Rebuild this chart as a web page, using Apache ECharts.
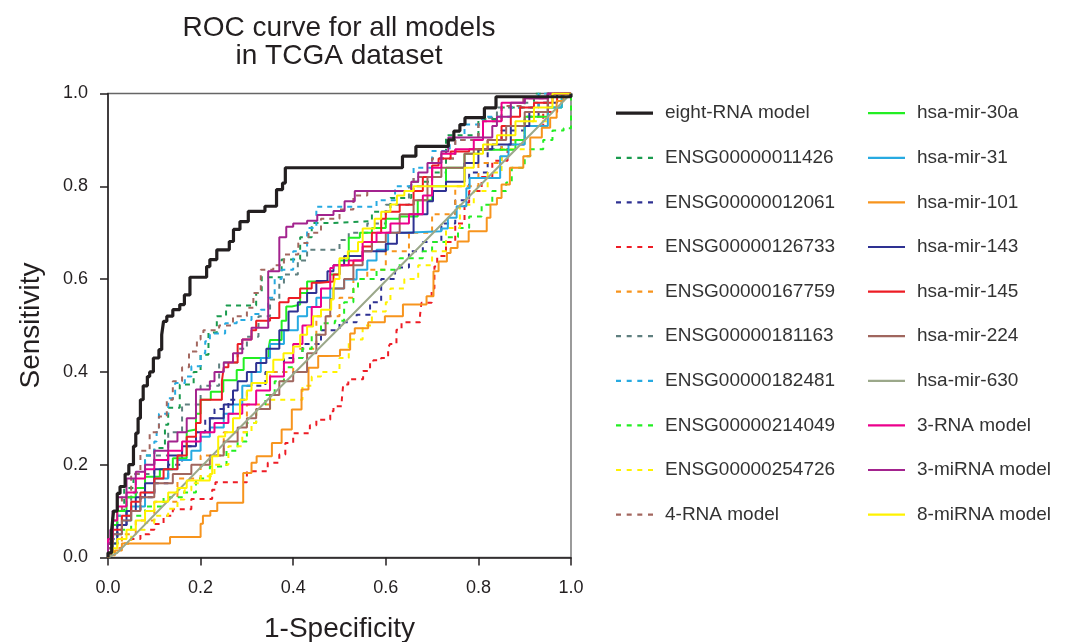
<!DOCTYPE html>
<html><head><meta charset="utf-8">
<script src="https://cdn.jsdelivr.net/npm/echarts@6/dist/echarts.min.js"></script>
<style>html,body{margin:0;padding:0;background:#fff}#c{width:1069px;height:642px}</style>
</head><body><div id="c"></div><script>
// ---- data (1-Specificity, Sensitivity) ----
const xTicks = [0, 0.2, 0.4, 0.6, 0.8, 1.0];
const yTicks = [0, 0.2, 0.4, 0.6, 0.8, 1.0];
const legendCol1 = ['eight-RNA model','ENSG00000011426','ENSG00000012061','ENSG00000126733','ENSG00000167759','ENSG00000181163','ENSG00000182481','ENSG00000214049','ENSG00000254726','4-RNA model'];
const legendCol2 = ['hsa-mir-30a','hsa-mir-31','hsa-mir-101','hsa-mir-143','hsa-mir-145','hsa-mir-224','hsa-mir-630','3-RNA model','3-miRNA model','8-miRNA model'];

const eightRNA = [[0,0],[0.008,0.01],[0.01,0.06],[0.012,0.08],[0.02,0.1],[0.026,0.138],[0.037,0.153],[0.045,0.18],[0.055,0.2],[0.06,0.24],[0.065,0.268],[0.07,0.3],[0.076,0.34],[0.085,0.37],[0.09,0.39],[0.098,0.4],[0.11,0.43],[0.116,0.448],[0.12,0.48],[0.127,0.509],[0.14,0.52],[0.155,0.534],[0.165,0.545],[0.177,0.566],[0.181,0.604],[0.213,0.604],[0.22,0.627],[0.235,0.642],[0.24,0.663],[0.262,0.663],[0.271,0.681],[0.285,0.707],[0.303,0.724],[0.314,0.746],[0.339,0.746],[0.339,0.757],[0.364,0.757],[0.377,0.793],[0.383,0.807],[0.383,0.84],[0.636,0.84],[0.665,0.865],[0.735,0.886],[0.747,0.9],[0.76,0.919],[0.771,0.933],[0.813,0.948],[0.838,0.969],[0.838,0.993],[1,0.993],[1,1]];
const ensg11426 = [[0,0],[0.01,0.04],[0.035,0.1],[0.055,0.15],[0.08,0.18],[0.1,0.22],[0.123,0.236],[0.13,0.286],[0.155,0.323],[0.185,0.373],[0.2,0.4],[0.217,0.437],[0.235,0.485],[0.255,0.52],[0.262,0.543],[0.32,0.543],[0.332,0.57],[0.375,0.604],[0.415,0.642],[0.44,0.69],[0.487,0.721],[0.57,0.725],[0.61,0.745],[0.655,0.775],[0.7,0.81],[0.73,0.83],[0.8,0.91],[0.85,0.945],[0.92,0.97],[1,1]];
const ensg12061 = [[0,0],[0.02,0.04],[0.04,0.07],[0.07,0.1],[0.1,0.13],[0.13,0.16],[0.16,0.2],[0.19,0.24],[0.21,0.27],[0.23,0.3],[0.26,0.32],[0.3,0.34],[0.34,0.37],[0.38,0.4],[0.42,0.43],[0.46,0.46],[0.5,0.49],[0.537,0.507],[0.566,0.523],[0.59,0.55],[0.62,0.6],[0.65,0.625],[0.68,0.66],[0.72,0.68],[0.75,0.72],[0.78,0.77],[0.82,0.83],[0.85,0.88],[0.9,0.92],[0.93,0.95],[0.97,0.98],[1,1]];
const ensg126733 = [[0,0],[0.01,0.01],[0.03,0.02],[0.05,0.03],[0.07,0.04],[0.09,0.05],[0.1,0.06],[0.12,0.072],[0.14,0.09],[0.156,0.104],[0.18,0.104],[0.2,0.126],[0.225,0.126],[0.232,0.146],[0.26,0.162],[0.3,0.162],[0.314,0.186],[0.345,0.186],[0.37,0.204],[0.383,0.222],[0.4,0.247],[0.415,0.268],[0.436,0.268],[0.45,0.285],[0.458,0.297],[0.48,0.297],[0.487,0.315],[0.505,0.326],[0.508,0.34],[0.519,0.373],[0.537,0.384],[0.551,0.384],[0.566,0.402],[0.573,0.42],[0.59,0.425],[0.605,0.43],[0.609,0.452],[0.623,0.46],[0.634,0.491],[0.645,0.507],[0.674,0.507],[0.677,0.523],[0.699,0.549],[0.705,0.58],[0.711,0.627],[0.73,0.65],[0.75,0.68],[0.77,0.72],[0.78,0.765],[0.807,0.79],[0.83,0.82],[0.863,0.855],[0.9,0.89],[0.94,0.93],[0.97,0.96],[1,1]];
const ensg167759 = [[0,0],[0.03,0.02],[0.06,0.05],[0.1,0.08],[0.15,0.12],[0.2,0.17],[0.25,0.22],[0.3,0.27],[0.35,0.33],[0.4,0.4],[0.45,0.45],[0.5,0.52],[0.53,0.56],[0.56,0.6],[0.6,0.62],[0.65,0.66],[0.7,0.7],[0.75,0.74],[0.8,0.8],[0.85,0.85],[0.9,0.9],[0.95,0.95],[1,1]];
const ensg181163 = [[0,0],[0.02,0.04],[0.05,0.09],[0.08,0.14],[0.1,0.18],[0.13,0.22],[0.16,0.27],[0.2,0.33],[0.24,0.37],[0.28,0.42],[0.3,0.45],[0.325,0.476],[0.35,0.52],[0.37,0.556],[0.38,0.59],[0.39,0.61],[0.41,0.61],[0.43,0.64],[0.47,0.663],[0.5,0.663],[0.52,0.684],[0.56,0.7],[0.6,0.72],[0.65,0.76],[0.7,0.8],[0.75,0.86],[0.8,0.9],[0.84,0.948],[0.9,0.97],[0.95,0.98],[1,1]];
const ensg182481 = [[0,0],[0.02,0.04],[0.04,0.09],[0.06,0.13],[0.08,0.18],[0.1,0.22],[0.105,0.25],[0.11,0.28],[0.13,0.31],[0.145,0.343],[0.166,0.376],[0.18,0.39],[0.2,0.412],[0.21,0.44],[0.22,0.466],[0.253,0.483],[0.278,0.505],[0.31,0.512],[0.33,0.525],[0.346,0.534],[0.36,0.56],[0.375,0.6],[0.4,0.62],[0.43,0.66],[0.45,0.71],[0.46,0.756],[0.58,0.756],[0.62,0.77],[0.66,0.8],[0.7,0.84],[0.738,0.876],[0.77,0.9],[0.81,0.933],[0.87,0.95],[0.93,0.97],[1,1]];
const ensg214049 = [[0,0],[0.02,0.03],[0.05,0.06],[0.08,0.09],[0.12,0.11],[0.16,0.13],[0.19,0.14],[0.22,0.17],[0.256,0.196],[0.28,0.23],[0.3,0.25],[0.32,0.29],[0.34,0.32],[0.36,0.35],[0.38,0.38],[0.4,0.41],[0.42,0.43],[0.44,0.45],[0.46,0.48],[0.49,0.505],[0.51,0.51],[0.53,0.55],[0.54,0.58],[0.58,0.6],[0.63,0.62],[0.68,0.645],[0.7,0.66],[0.73,0.68],[0.756,0.69],[0.78,0.71],[0.807,0.735],[0.83,0.76],[0.86,0.79],[0.872,0.808],[0.9,0.84],[0.912,0.865],[0.94,0.88],[0.96,0.9],[0.984,0.92],[1,0.925],[1,1]];
const ensg254726 = [[0,0],[0.02,0.01],[0.05,0.03],[0.08,0.06],[0.1,0.075],[0.13,0.09],[0.15,0.105],[0.165,0.125],[0.18,0.145],[0.2,0.16],[0.23,0.175],[0.26,0.2],[0.29,0.24],[0.31,0.27],[0.32,0.29],[0.35,0.32],[0.375,0.34],[0.42,0.34],[0.44,0.37],[0.46,0.39],[0.5,0.4],[0.52,0.43],[0.55,0.47],[0.57,0.5],[0.6,0.53],[0.61,0.55],[0.64,0.58],[0.67,0.6],[0.7,0.63],[0.73,0.66],[0.76,0.71],[0.79,0.76],[0.82,0.79],[0.85,0.83],[0.9,0.88],[0.95,0.94],[1,1]];
const rna4 = [[0,0],[0.01,0.04],[0.03,0.08],[0.05,0.13],[0.07,0.18],[0.09,0.23],[0.11,0.27],[0.127,0.304],[0.14,0.34],[0.16,0.38],[0.175,0.41],[0.192,0.444],[0.2,0.47],[0.206,0.484],[0.24,0.49],[0.27,0.5],[0.3,0.52],[0.314,0.538],[0.33,0.57],[0.357,0.62],[0.38,0.63],[0.411,0.653],[0.433,0.678],[0.46,0.7],[0.5,0.73],[0.53,0.75],[0.56,0.78],[0.59,0.79],[0.66,0.79],[0.7,0.82],[0.75,0.86],[0.8,0.9],[0.85,0.94],[0.897,0.973],[0.95,0.99],[1,1]];
const mir30a = [[0,0],[0.01,0.03],[0.02,0.07],[0.04,0.1],[0.06,0.13],[0.08,0.15],[0.112,0.174],[0.14,0.19],[0.17,0.214],[0.17,0.272],[0.19,0.276],[0.2,0.31],[0.222,0.34],[0.249,0.357],[0.278,0.382],[0.293,0.404],[0.347,0.43],[0.35,0.451],[0.375,0.469],[0.385,0.51],[0.397,0.541],[0.415,0.545],[0.43,0.57],[0.443,0.595],[0.48,0.595],[0.5,0.61],[0.52,0.64],[0.544,0.689],[0.57,0.7],[0.6,0.71],[0.63,0.73],[0.669,0.735],[0.7,0.77],[0.73,0.8],[0.77,0.84],[0.8,0.87],[0.82,0.879],[0.88,0.879],[0.9,0.9],[0.95,0.95],[0.98,0.97],[1,1]];
const mir31 = [[0,0],[0.01,0.02],[0.03,0.05],[0.05,0.08],[0.08,0.11],[0.1,0.14],[0.13,0.17],[0.15,0.19],[0.18,0.21],[0.2,0.23],[0.22,0.26],[0.25,0.28],[0.27,0.31],[0.29,0.33],[0.31,0.37],[0.33,0.4],[0.35,0.43],[0.38,0.46],[0.41,0.49],[0.43,0.52],[0.45,0.54],[0.48,0.56],[0.51,0.58],[0.537,0.599],[0.56,0.62],[0.58,0.64],[0.605,0.663],[0.641,0.7],[0.72,0.703],[0.734,0.709],[0.753,0.732],[0.774,0.757],[0.781,0.796],[0.847,0.818],[0.865,0.865],[0.9,0.89],[0.95,0.93],[0.98,0.97],[1,1]];
const mir101 = [[0,0],[0.015,0.005],[0.03,0.015],[0.04,0.03],[0.134,0.03],[0.134,0.044],[0.2,0.044],[0.205,0.073],[0.221,0.09],[0.236,0.1],[0.26,0.118],[0.292,0.118],[0.292,0.131],[0.31,0.182],[0.321,0.204],[0.354,0.218],[0.375,0.247],[0.397,0.276],[0.418,0.319],[0.433,0.362],[0.454,0.409],[0.472,0.434],[0.501,0.435],[0.501,0.448],[0.523,0.448],[0.523,0.462],[0.533,0.483],[0.544,0.494],[0.562,0.494],[0.562,0.507],[0.598,0.507],[0.598,0.52],[0.637,0.52],[0.637,0.545],[0.688,0.545],[0.688,0.563],[0.703,0.563],[0.703,0.602],[0.714,0.617],[0.732,0.638],[0.74,0.656],[0.755,0.667],[0.779,0.681],[0.818,0.703],[0.826,0.732],[0.84,0.761],[0.85,0.775],[0.868,0.804],[0.897,0.84],[0.912,0.865],[0.937,0.905],[0.955,0.926],[0.969,0.948],[0.984,0.984],[1,1]];
const mir143 = [[0,0],[0.02,0.03],[0.04,0.07],[0.06,0.1],[0.08,0.13],[0.1,0.16],[0.13,0.19],[0.16,0.22],[0.19,0.24],[0.22,0.27],[0.25,0.3],[0.27,0.33],[0.28,0.36],[0.3,0.38],[0.32,0.4],[0.342,0.419],[0.37,0.45],[0.39,0.49],[0.41,0.53],[0.43,0.55],[0.45,0.57],[0.474,0.596],[0.487,0.617],[0.51,0.63],[0.55,0.65],[0.6,0.66],[0.624,0.676],[0.66,0.7],[0.69,0.74],[0.702,0.768],[0.73,0.79],[0.77,0.81],[0.8,0.85],[0.83,0.88],[0.87,0.89],[0.91,0.93],[0.95,0.96],[1,1]];
const mir145 = [[0,0],[0.01,0.03],[0.03,0.06],[0.05,0.09],[0.07,0.12],[0.1,0.14],[0.12,0.17],[0.15,0.19],[0.17,0.22],[0.19,0.26],[0.2,0.29],[0.22,0.34],[0.246,0.34],[0.25,0.38],[0.26,0.41],[0.28,0.42],[0.29,0.46],[0.31,0.47],[0.32,0.49],[0.35,0.51],[0.37,0.516],[0.39,0.55],[0.415,0.559],[0.44,0.58],[0.458,0.592],[0.487,0.595],[0.5,0.61],[0.53,0.63],[0.55,0.64],[0.57,0.67],[0.59,0.7],[0.6,0.73],[0.63,0.745],[0.66,0.76],[0.68,0.79],[0.7,0.82],[0.714,0.845],[0.74,0.86],[0.78,0.875],[0.82,0.88],[0.85,0.9],[0.87,0.93],[0.89,0.95],[0.92,0.97],[0.96,0.98],[1,1]];
const mir224 = [[0,0],[0.01,0.02],[0.03,0.05],[0.05,0.08],[0.07,0.1],[0.1,0.13],[0.14,0.16],[0.18,0.18],[0.22,0.2],[0.25,0.22],[0.28,0.25],[0.3,0.28],[0.32,0.3],[0.35,0.32],[0.37,0.35],[0.4,0.38],[0.43,0.4],[0.45,0.44],[0.47,0.48],[0.48,0.52],[0.487,0.557],[0.51,0.58],[0.53,0.6],[0.55,0.63],[0.57,0.66],[0.6,0.68],[0.63,0.7],[0.66,0.74],[0.69,0.77],[0.72,0.82],[0.77,0.84],[0.79,0.87],[0.82,0.88],[0.86,0.9],[0.9,0.93],[0.95,0.96],[1,1]];
const mir630 = [[0,0],[0.02,0.01],[0.25,0.245],[0.5,0.495],[0.75,0.748],[1,1]];
const rna3 = [[0,0],[0.01,0.04],[0.02,0.08],[0.04,0.11],[0.06,0.14],[0.08,0.17],[0.1,0.19],[0.13,0.21],[0.16,0.23],[0.2,0.25],[0.23,0.27],[0.26,0.29],[0.29,0.31],[0.32,0.33],[0.35,0.36],[0.38,0.39],[0.4,0.42],[0.42,0.46],[0.44,0.5],[0.46,0.54],[0.48,0.58],[0.487,0.624],[0.52,0.63],[0.55,0.64],[0.58,0.68],[0.61,0.7],[0.65,0.72],[0.68,0.74],[0.7,0.78],[0.72,0.84],[0.75,0.87],[0.79,0.88],[0.81,0.9],[0.85,0.94],[0.9,0.98],[0.95,0.99],[1,1]];
const mirna3 = [[0,0],[0.005,0.03],[0.01,0.06],[0.02,0.1],[0.04,0.13],[0.06,0.17],[0.08,0.185],[0.1,0.2],[0.13,0.23],[0.15,0.25],[0.17,0.27],[0.19,0.3],[0.19,0.362],[0.22,0.362],[0.23,0.38],[0.25,0.4],[0.27,0.42],[0.29,0.44],[0.31,0.47],[0.325,0.495],[0.346,0.495],[0.346,0.617],[0.37,0.617],[0.37,0.657],[0.385,0.69],[0.4,0.713],[0.43,0.72],[0.452,0.726],[0.487,0.738],[0.511,0.747],[0.533,0.768],[0.556,0.79],[0.655,0.79],[0.67,0.81],[0.69,0.83],[0.72,0.85],[0.735,0.875],[0.755,0.905],[0.83,0.905],[0.84,0.93],[0.87,0.95],[0.9,0.98],[0.95,0.99],[1,1]];
const mirna8 = [[0,0],[0.01,0.01],[0.02,0.02],[0.04,0.04],[0.06,0.06],[0.08,0.08],[0.1,0.1],[0.13,0.12],[0.15,0.14],[0.17,0.15],[0.2,0.166],[0.22,0.166],[0.225,0.18],[0.238,0.218],[0.253,0.261],[0.27,0.27],[0.285,0.3],[0.3,0.34],[0.31,0.36],[0.343,0.376],[0.357,0.4],[0.379,0.426],[0.4,0.44],[0.415,0.455],[0.43,0.48],[0.443,0.498],[0.46,0.52],[0.482,0.534],[0.487,0.556],[0.49,0.58],[0.5,0.6],[0.518,0.645],[0.54,0.66],[0.55,0.68],[0.576,0.709],[0.59,0.73],[0.61,0.745],[0.624,0.761],[0.64,0.78],[0.66,0.79],[0.77,0.8],[0.79,0.84],[0.81,0.87],[0.84,0.89],[0.88,0.91],[0.92,0.94],[0.96,0.97],[1,1]];

// ---- styling ----
const FONT = '"Liberation Sans", Arial, Helvetica, sans-serif';
const TXT = '#231F20';
const defs = [
  {name:'ENSG00000011426', data:ensg11426, color:'#1A9B4E', dash:true},
  {name:'ENSG00000012061', data:ensg12061, color:'#2E3192', dash:true},
  {name:'ENSG00000126733', data:ensg126733, color:'#EE1C25', dash:true},
  {name:'ENSG00000167759', data:ensg167759, color:'#F7941D', dash:true},
  {name:'ENSG00000181163', data:ensg181163, color:'#5F7F7F', dash:true},
  {name:'ENSG00000182481', data:ensg182481, color:'#27AAE1', dash:true},
  {name:'ENSG00000214049', data:ensg214049, color:'#22EE22', dash:true},
  {name:'ENSG00000254726', data:ensg254726, color:'#FFF200', dash:true},
  {name:'4-RNA model', data:rna4, color:'#A3675F', dash:true},
  {name:'hsa-mir-30a', data:mir30a, color:'#22EE22'},
  {name:'hsa-mir-31', data:mir31, color:'#27AAE1'},
  {name:'hsa-mir-101', data:mir101, color:'#F7941D'},
  {name:'hsa-mir-143', data:mir143, color:'#2E3192'},
  {name:'hsa-mir-145', data:mir145, color:'#ED1C24'},
  {name:'hsa-mir-224', data:mir224, color:'#A0665E'},
  {name:'hsa-mir-630', data:mir630, color:'#9BA88A', straight:true},
  {name:'3-RNA model', data:rna3, color:'#EC008C'},
  {name:'3-miRNA model', data:mirna3, color:'#A3238E'},
  {name:'8-miRNA model', data:mirna8, color:'#FFF200'},
  {name:'eight-RNA model', data:eightRNA, color:'#231F20', width:3.2, z:5, thick:true}
];
const series = defs.map(d => ({
  name: d.name, type: 'line', data: d.data, symbol: 'none', showSymbol: false,
  step: d.straight ? false : 'start',
  z: d.z || 2, animation: false, silent: true,
  lineStyle: {color: d.color, width: d.width || 2, type: d.dash ? [5,5] : 'solid'},
  itemStyle: {color: d.color}
}));

const ICON_SOLID = 'path://M0,0H37V2.2H0Z';
const ICON_THICK = 'path://M0,0H37V3.2H0Z';
const ICON_DASH = 'path://M0,0H5V2.2H0Z M10.7,0H15.7V2.2H10.7Z M21.3,0H26.3V2.2H21.3Z M32,0H37V2.2H32Z';
function legendItems(names) {
  return names.map(n => {
    const d = defs.find(x => x.name === n);
    return {name: n, icon: d.thick ? ICON_THICK : (d.dash ? ICON_DASH : ICON_SOLID)};
  });
}
const legendBase = {
  orient: 'vertical', top: 98.7, itemWidth: 37, itemHeight: 14, itemGap: 25.6,
  symbolKeepAspect: true,
  textStyle: {fontFamily: FONT, fontSize: 19, color: '#333', padding: [0,0,0,7]},
  selectedMode: false
};

const chart = echarts.init(document.getElementById('c'), null, {renderer: 'canvas'});
chart.setOption({
  backgroundColor: '#fff',
  animation: false,
  title: {
    text: 'ROC curve for all models\nin TCGA dataset',
    left: 334, top: 9, textAlign: 'center',
    textStyle: {fontFamily: FONT, fontSize: 28, fontWeight: 'normal', color: TXT, lineHeight: 28.5}
  },
  legend: [
    Object.assign({}, legendBase, {left: 611, data: legendItems(legendCol1)}),
    Object.assign({}, legendBase, {left: 863, data: legendItems(legendCol2)})
  ],
  grid: {left: 108, right: 498, top: 93.5, bottom: 84.5, outerBoundsMode: 'none', containLabel: false, show: true, borderColor: '#666', borderWidth: 1.3, backgroundColor: 'transparent'},
  xAxis: {
    type: 'value', min: xTicks[0], max: xTicks[xTicks.length-1], interval: 0.2,
    name: '1-Specificity', nameLocation: 'middle', nameGap: 57.5,
    nameTextStyle: {fontFamily: FONT, fontSize: 28, color: TXT},
    axisLine: {show: true, lineStyle: {color: TXT, width: 1.5}},
    axisTick: {show: true, length: 8, lineStyle: {color: TXT, width: 1.5}},
    splitLine: {show: false},
    axisLabel: {fontFamily: FONT, fontSize: 18, color: TXT, margin: 22, formatter: v => v.toFixed(1)}
  },
  yAxis: {
    type: 'value', min: yTicks[0], max: yTicks[yTicks.length-1], interval: 0.2,
    name: 'Sensitivity', nameLocation: 'middle', nameGap: 63,
    nameTextStyle: {fontFamily: FONT, fontSize: 28, color: TXT},
    axisLine: {show: true, lineStyle: {color: TXT, width: 1.5}},
    axisTick: {show: true, length: 8, lineStyle: {color: TXT, width: 1.5}},
    splitLine: {show: false},
    axisLabel: {fontFamily: FONT, fontSize: 18, color: TXT, margin: 20, formatter: v => v.toFixed(1)}
  },
  series: series
});
</script></body></html>
